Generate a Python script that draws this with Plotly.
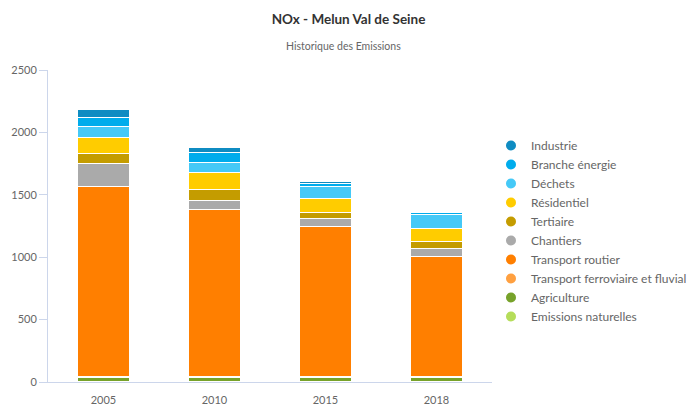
import plotly.graph_objects as go

years = ["2005", "2010", "2015", "2018"]

# stacked bottom -> top
sectors = [
    "Emissions naturelles",
    "Agriculture",
    "Transport ferroviaire et fluvial",
    "Transport routier",
    "Chantiers",
    "Tertiaire",
    "Résidentiel",
    "Déchets",
    "Branche énergie",
    "Industrie",
]
colors = [
    "#b5dd5a",
    "#77a22a",
    "#ffa040",
    "#ff7f00",
    "#aaaaaa",
    "#c49c00",
    "#ffcc00",
    "#45c9f7",
    "#00acec",
    "#0f8cc2",
]

emissions_naturelles = [1, 1, 1, 1]
agriculture = [35, 35, 35, 35]
transport_ferroviaire = [5, 5, 5, 5]
transport_routier = [1526, 1339, 1204, 966]
chantiers = [186, 78, 64, 66]
tertiaire = [77, 88, 53, 54]
residentiel = [128, 131, 107, 106]
dechets = [89, 85, 95, 110]
branche_energie = [71, 80, 29, 18]
industrie = [62, 39, 13, 5]

values = [
    emissions_naturelles,
    agriculture,
    transport_ferroviaire,
    transport_routier,
    chantiers,
    tertiaire,
    residentiel,
    dechets,
    branche_energie,
    industrie,
]

FONT = "Lato"

fig = go.Figure()
for name, col, vals in zip(sectors, colors, values):
    fig.add_trace(go.Bar(
        x=years, y=vals, name=name, marker=dict(color=col, line=dict(color="white", width=1)),
        width=0.47, showlegend=False,
    ))
for name, col in zip(sectors, colors):
    fig.add_trace(go.Scatter(
        x=[None], y=[None], mode="markers", name=name,
        marker=dict(color=col, size=10, symbol="circle"),
    ))

fig.update_layout(
    width=697, height=407,
    barmode="stack",
    plot_bgcolor="white", paper_bgcolor="white",
    margin=dict(l=48, r=205, t=70, b=25, autoexpand=False),
    font=dict(family=FONT, color="#666666", size=11),
    title=dict(
        text="<b>NOx - Melun Val de Seine</b>",
        x=0.5, xref="container", xanchor="center",
        y=0.952, yref="container", yanchor="middle",
        font=dict(family=FONT, size=13.5, color="#333333"),
    ),
    annotations=[dict(
        text="Historique des Emissions", xref="paper", yref="paper",
        x=(343 - 48) / 444, y=(382 - 46) / 312, xanchor="center", yanchor="middle",
        showarrow=False, font=dict(family=FONT, size=10.5, color="#666666"),
    )],
    legend=dict(
        x=(491 - 48) / 444, y=(382 - 131) / 312, xanchor="left", yanchor="top",
        traceorder="reversed", font=dict(family=FONT, size=12, color="#666666"),
        itemwidth=30, tracegroupgap=0,
    ),
    xaxis=dict(
        type="category", showline=True, linecolor="#ccd6eb", linewidth=1,
        ticks="", showgrid=False, tickfont=dict(size=11, color="#666666"),
        ticklabelstandoff=8,
    ),
    yaxis=dict(
        range=[0, 2500], tickvals=[0, 500, 1000, 1500, 2000, 2500],
        showline=True, linecolor="#ccd6eb", linewidth=1,
        ticks="outside", ticklen=8, tickcolor="#ccd6eb",
        showgrid=False, zeroline=False, tickfont=dict(size=11, color="#666666"),
    ),
)

fig.write_html("out.html")
